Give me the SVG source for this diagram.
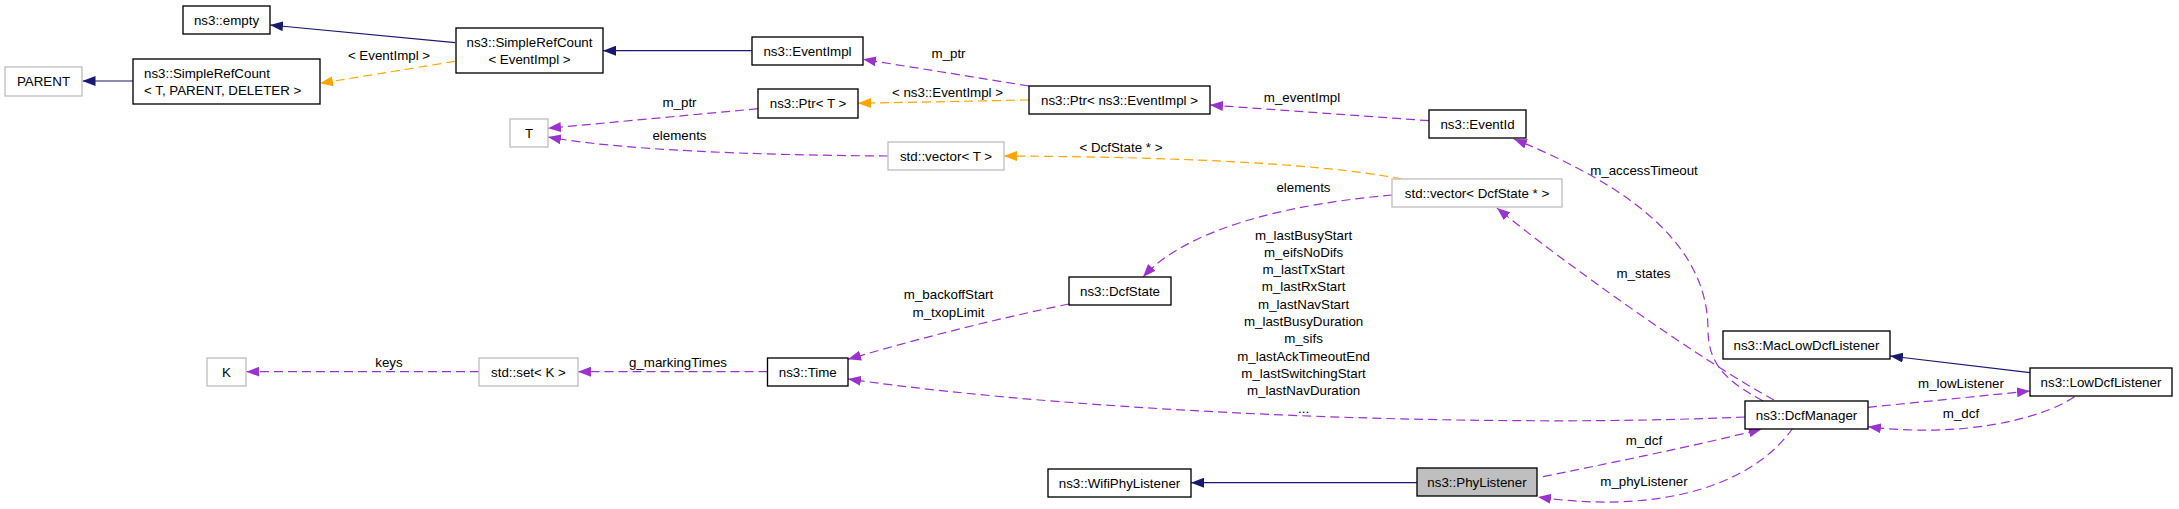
<svg xmlns="http://www.w3.org/2000/svg" width="2179" height="509" viewBox="0 0 2179 509">
<style>
  .box{fill:#fff;stroke:#000;stroke-width:1.33}
  .gbox{fill:#fff;stroke:#bfbfbf;stroke-width:1.33}
  .hbox{fill:#bfbfbf;stroke:#000;stroke-width:1.33}
  text{font-family:"Liberation Sans",Arial,sans-serif;font-size:13.33px;fill:#000}
  .c{text-anchor:middle}
  .inh{fill:none;stroke:#191970;stroke-width:1.2}
  .use{fill:none;stroke:#9a32cd;stroke-width:1.2;stroke-dasharray:9,5}
  .tpl{fill:none;stroke:#ffa500;stroke-width:1.2;stroke-dasharray:9,5}
</style>
<defs>
  <marker id="aN" markerUnits="userSpaceOnUse" markerWidth="13" markerHeight="10" viewBox="0 0 13 10" refX="13" refY="5" orient="auto"><path d="M0,0 L13,5 L0,10 z" fill="#191970"/></marker>
  <marker id="aP" markerUnits="userSpaceOnUse" markerWidth="13" markerHeight="10" viewBox="0 0 13 10" refX="13" refY="5" orient="auto"><path d="M0,0 L13,5 L0,10 z" fill="#9a32cd"/></marker>
  <marker id="aO" markerUnits="userSpaceOnUse" markerWidth="13" markerHeight="10" viewBox="0 0 13 10" refX="13" refY="5" orient="auto"><path d="M0,0 L13,5 L0,10 z" fill="#ffa500"/></marker>
</defs>
<rect width="2179" height="509" fill="#fff"/>
<g id="connectors">
  <path class="inh" d="M455,42.7 L270,25" marker-end="url(#aN)"/>
  <path class="inh" d="M133,81 L82.5,81" marker-end="url(#aN)"/>
  <path class="inh" d="M752,50.7 L603,50.7" marker-end="url(#aN)"/>
  <path class="inh" d="M2030,372.7 L1890,356" marker-end="url(#aN)"/>
  <path class="inh" d="M1417,482.7 L1191,482.7" marker-end="url(#aN)"/>

  <path class="tpl" d="M455,61.3 L320,83.3" marker-end="url(#aO)"/>
  <text class="c" x="389" y="59.5">&lt; EventImpl &gt;</text>
  <path class="tpl" d="M1029,100 L858,103.3" marker-end="url(#aO)"/>
  <text class="c" x="947.5" y="97">&lt; ns3::EventImpl &gt;</text>
  <path class="tpl" d="M1402,179 C1330,165 1200,157 1004,156" marker-end="url(#aO)"/>
  <text class="c" x="1121" y="151.7">&lt; DcfState * &gt;</text>

  <path class="use" d="M1029,86 L863,59.3" marker-end="url(#aP)"/>
  <text class="c" x="948.5" y="58">m_ptr</text>
  <path class="use" d="M758,108.7 L548,128.3" marker-end="url(#aP)"/>
  <text class="c" x="679.5" y="106.7">m_ptr</text>
  <path class="use" d="M888,156 C750,155 620,150 548,137" marker-end="url(#aP)"/>
  <text class="c" x="679.5" y="140">elements</text>
  <path class="use" d="M1429,120.7 L1210,105" marker-end="url(#aP)"/>
  <text class="c" x="1302" y="102.3">m_eventImpl</text>
  <path class="use" d="M1763,401 C1735,385 1708,370 1708,330 C1708,250 1640,190 1514,139" marker-end="url(#aP)"/>
  <text class="c" x="1644" y="175">m_accessTimeout</text>
  <path class="use" d="M1392,195 C1300,203 1190,225 1143,277" marker-end="url(#aP)"/>
  <text class="c" x="1303.5" y="191.7">elements</text>
  <path class="use" d="M1774,400 C1700,360 1560,260 1497,208" marker-end="url(#aP)"/>
  <text class="c" x="1643.5" y="278.3">m_states</text>
  <path class="use" d="M1069,304 C1000,318 920,338 848,359.3" marker-end="url(#aP)"/>
  <text class="c" x="948.5" y="299.3">m_backoffStart</text>
  <text class="c" x="948.5" y="316.7">m_txopLimit</text>
  <path class="use" d="M767.5,371.7 L578,371.7" marker-end="url(#aP)"/>
  <text class="c" x="678" y="366.7">g_markingTimes</text>
  <path class="use" d="M479,371.7 L246.4,371.7" marker-end="url(#aP)"/>
  <text class="c" x="389" y="366.7">keys</text>
  <path class="use" d="M1745,417 C1500,428 1100,415 848,379" marker-end="url(#aP)"/>
  <text class="c" x="1303.6" y="239.5">m_lastBusyStart</text>
  <text class="c" x="1303.6" y="256.8">m_eifsNoDifs</text>
  <text class="c" x="1303.6" y="274.1">m_lastTxStart</text>
  <text class="c" x="1303.6" y="291.4">m_lastRxStart</text>
  <text class="c" x="1303.6" y="308.7">m_lastNavStart</text>
  <text class="c" x="1303.6" y="326">m_lastBusyDuration</text>
  <text class="c" x="1303.6" y="343.3">m_sifs</text>
  <text class="c" x="1303.6" y="360.6">m_lastAckTimeoutEnd</text>
  <text class="c" x="1303.6" y="377.9">m_lastSwitchingStart</text>
  <text class="c" x="1303.6" y="395.2">m_lastNavDuration</text>
  <text class="c" x="1303.6" y="412.5">...</text>
  <path class="use" d="M1868,407.3 L2030,391" marker-end="url(#aP)"/>
  <text class="c" x="1961" y="387.5">m_lowListener</text>
  <path class="use" d="M2074.5,396.7 C2040,420 1960,438 1868,426.7" marker-end="url(#aP)"/>
  <text class="c" x="1961" y="418.3">m_dcf</text>
  <path class="use" d="M1543,476.7 C1600,465 1700,445 1761.7,429" marker-end="url(#aP)"/>
  <text class="c" x="1644" y="445">m_dcf</text>
  <path class="use" d="M1793,428 C1745,495 1640,512 1538,497" marker-end="url(#aP)"/>
  <text class="c" x="1644" y="486">m_phyListener</text>
</g>
<g id="n_empty"><rect class="box" x="183" y="6" width="87" height="28"/><text class="c" x="226.5" y="24.8">ns3::empty</text></g>
<g id="n_parent"><rect class="gbox" x="5" y="67" width="77" height="29"/><text class="c" x="43.5" y="86.3">PARENT</text></g>
<g id="n_simplerefcount_tpd"><rect class="box" x="133" y="59" width="187" height="45"/><text x="144" y="77.6">ns3::SimpleRefCount</text><text x="144" y="95">&lt; T, PARENT, DELETER &gt;</text></g>
<g id="n_simplerefcount_eventimpl"><rect class="box" x="456" y="28" width="147" height="45"/><text class="c" x="529.5" y="46.6">ns3::SimpleRefCount</text><text class="c" x="529.5" y="63.9">&lt; EventImpl &gt;</text></g>
<g id="n_eventimpl"><rect class="box" x="752" y="37" width="111" height="28"/><text class="c" x="807.5" y="55.8">ns3::EventImpl</text></g>
<g id="n_T"><rect class="gbox" x="510" y="119" width="38" height="28"/><text class="c" x="529" y="137.8">T</text></g>
<g id="n_ptr_t"><rect class="box" x="758" y="89" width="100" height="29"/><text class="c" x="808" y="108.3">ns3::Ptr&lt; T &gt;</text></g>
<g id="n_ptr_eventimpl"><rect class="box" x="1029" y="86" width="181" height="28"/><text class="c" x="1119.5" y="104.8">ns3::Ptr&lt; ns3::EventImpl &gt;</text></g>
<g id="n_eventid"><rect class="box" x="1429" y="110" width="97" height="28"/><text class="c" x="1477.5" y="128.8">ns3::EventId</text></g>
<g id="n_vector_t"><rect class="gbox" x="888" y="142" width="116" height="28"/><text class="c" x="946" y="160.8">std::vector&lt; T &gt;</text></g>
<g id="n_vector_dcfstate"><rect class="gbox" x="1392" y="179" width="170" height="28"/><text class="c" x="1477" y="197.8">std::vector&lt; DcfState * &gt;</text></g>
<g id="n_dcfstate"><rect class="box" x="1069" y="277" width="102" height="28"/><text class="c" x="1120" y="295.8">ns3::DcfState</text></g>
<g id="n_K"><rect class="gbox" x="207" y="358" width="39" height="28"/><text class="c" x="226.5" y="376.8">K</text></g>
<g id="n_set_k"><rect class="gbox" x="479" y="358" width="99" height="28"/><text class="c" x="528.5" y="376.8">std::set&lt; K &gt;</text></g>
<g id="n_time"><rect class="box" x="767.5" y="358" width="80.5" height="28"/><text class="c" x="807.75" y="376.8">ns3::Time</text></g>
<g id="n_maclowdcflistener"><rect class="box" x="1723" y="331" width="167" height="28"/><text class="c" x="1806.5" y="349.8">ns3::MacLowDcfListener</text></g>
<g id="n_lowdcflistener"><rect class="box" x="2030" y="368" width="142" height="28"/><text class="c" x="2101" y="386.8">ns3::LowDcfListener</text></g>
<g id="n_dcfmanager"><rect class="box" x="1745" y="401" width="123" height="28"/><text class="c" x="1806.5" y="419.8">ns3::DcfManager</text></g>
<g id="n_wifiphylistener"><rect class="box" x="1048" y="469" width="143" height="28"/><text class="c" x="1119.5" y="487.8">ns3::WifiPhyListener</text></g>
<g id="n_phylistener"><rect class="hbox" x="1417" y="468" width="120" height="28"/><text class="c" x="1477" y="486.8">ns3::PhyListener</text></g>
</svg>
